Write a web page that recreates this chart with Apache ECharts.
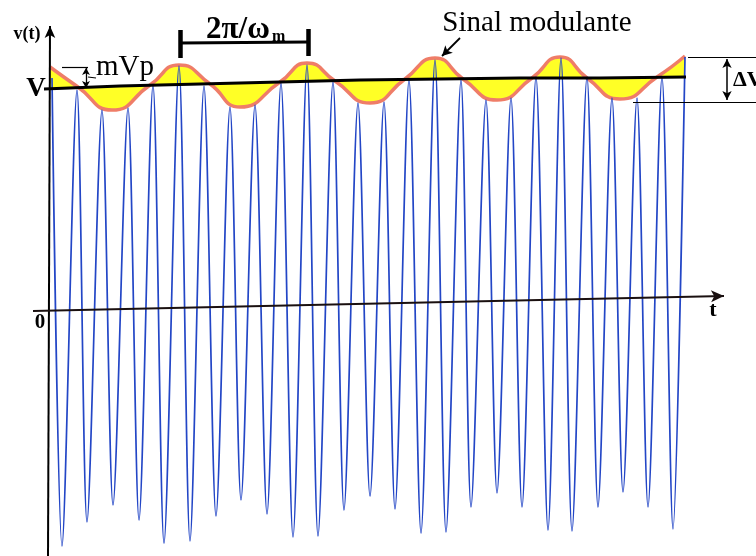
<!DOCTYPE html>
<html><head><meta charset="utf-8">
<script src="https://cdn.jsdelivr.net/npm/echarts@6/dist/echarts.min.js"></script>
<style>html,body{margin:0;padding:0;background:#fff}#c{width:756px;height:556px}</style>
</head><body><div id="c"></div>
<script>
// ---- values (screen units: x to the right, y downward) ----
// carrier (blue) crests and troughs
const peakX = [52,77,102,128,153,179,204,230,255,281,307,333,358,384,409,435,461,486,511,536,561,587,612,637,662,685];
const peakY = [78,90,110,108,85,66,86,107,105,83,65,82,103,102,80,60,80,100,98,77,58,77,98,98,77,57];
const troughX = [62,87,113,139,164,190,216,241,267,293,318,344,370,395,421,446,471,497,522,548,572,598,623,648,673];
const troughY = [546,522,505,520,543,541,516,500,514,537,536,510,496,509,533,532,507,493,507,530,531,507,492,507,529];
// modulating signal (envelope) samples
const envX = [50,78,112,150,179,210,240,280,307,335,370,405,435,463,497,532,560,587,620,657,685];
const envY = [67,87,110,85,65,84,107,82,63,81,103,79,58,79,100,78,57,78,99,77,56];
// level V (black line) read at the envelope samples
const levelAtEnv = [88,87,86,85,85,84,83,82,82,81,80,79,79,79,78,78,78,78,77,77,77];
// level V line
const levelX = [44,120,200,280,360,440,520,600,686];
const levelY = [89,86,84,82,80,79,78,78,77];
// axes
const yAxisLine = [[48,556],[50,26]];
const xAxisLine = [[33,311],[724,296]];
// annotation geometry
const mvpTop = [[62,67],[88,67]];
const mvpArrow = [[86,68],[86,88]];
const mvpTick = [[88,77],[96,78]];
const periodBar = [[180,43],[308,42]];
const periodTickL = [[180,30],[180,58]];
const periodTickR = [[308,29],[308,56]];
const sinalArrow = [[460,38],[442,56]];
const dvTop = [[688,57],[756,57]];
const dvBottom = [[633,102],[756,102]];
const dvArrow = [[727,59],[727,100]];

const W = 756, H = 556;
const pixelCats = Array.from({length: W + 1}, (_, i) => String(i));
const serif = '"Liberation Serif","DejaVu Serif",serif';

const blueData = [];
for (let i = 0; i < peakX.length; i++) {
  blueData.push([peakX[i], peakY[i]]);
  if (i < troughX.length) blueData.push([troughX[i], troughY[i]]);
}
const baseData = envX.map((x, i) => [String(x), levelAtEnv[i]]);
const diffData = envX.map((x, i) => [String(x), envY[i] - levelAtEnv[i]]);
const envData = envX.map((x, i) => [x, envY[i]]);
const levelData = levelX.map((x, i) => [x, levelY[i]]);

function seg(pts, color, width, s0, s1, size) {
  const ls = {color: color, width: width, type: 'solid'};
  return [
    {coord: pts[0], symbol: s0 || 'none', symbolSize: size || 8, lineStyle: ls},
    {coord: pts[1], symbol: s1 || 'none', symbolSize: size || 8, lineStyle: ls}
  ];
}

function txt(text, x, y, font, align, valign) {
  return {type: 'text', x: x, y: y, z: 100,
    style: {text: text, font: font, fill: '#000',
      align: align || 'center', verticalAlign: valign || 'middle',
      textAlign: align || 'center', textVerticalAlign: valign || 'middle'}};
}

const chart = echarts.init(document.getElementById('c'), null, {renderer: 'canvas'});
chart.setOption({
  animation: false,
  backgroundColor: '#fff',
  grid: {left: 0, right: 0, top: 0, bottom: 0},
  xAxis: [
    {type: 'value', min: 0, max: W, show: false},
    {type: 'category', data: pixelCats, boundaryGap: false, show: false}
  ],
  yAxis: {type: 'value', min: 0, max: H, inverse: true, show: false},
  series: [
    {type: 'line', xAxisIndex: 1, data: baseData, stack: 'band', stackStrategy: 'all',
      symbol: 'none', smooth: 0.55, lineStyle: {opacity: 0, width: 0}, silent: true},
    {type: 'line', xAxisIndex: 1, data: diffData, stack: 'band', stackStrategy: 'all',
      symbol: 'none', smooth: 0.55, lineStyle: {opacity: 0, width: 0},
      areaStyle: {color: '#ffff26', opacity: 1}, silent: true},
    {type: 'line', data: envData, symbol: 'none', smooth: 0.55,
      lineStyle: {color: '#ef7d68', width: 3.5}, silent: true},
    {type: 'line', data: blueData, symbol: 'none', smooth: 0.3,
      lineStyle: {color: '#2346c6', width: 1.7}, silent: true},
    {type: 'line', data: levelData, symbol: 'none',
      lineStyle: {color: '#000', width: 3}, silent: true},
    {type: 'line', data: [], silent: true,
      markLine: {silent: true, animation: false, symbol: ['none', 'none'],
        label: {show: false}, emphasis: {disabled: true},
        data: [
          seg(yAxisLine, '#000', 2, 'none', 'arrow', [8, 12]),
          seg(xAxisLine, '#1a1010', 1.8, 'none', 'arrow', [9, 13]),
          seg(mvpTop, '#000', 1.2),
          seg(mvpArrow, '#000', 1.3, 'arrow', 'arrow', [6, 7]),
          seg(mvpTick, '#000', 1.2),
          seg(periodBar, '#000', 3),
          seg(periodTickL, '#000', 4.5),
          seg(periodTickR, '#000', 4.5),
          seg(sinalArrow, '#000', 1.8, 'none', 'arrow', [8, 10]),
          seg(dvTop, '#000', 1.2),
          seg(dvBottom, '#000', 1.2),
          seg(dvArrow, '#000', 1.5, 'arrow', 'arrow', [7, 9])
        ]}}
  ],
  graphic: [
    txt('v(t)', 27, 34, 'bold 18px ' + serif),
    txt('V', 36, 89, 'bold 27px ' + serif),
    txt('mVp', 125, 67, '29px ' + serif),
    txt('2π/ω', 238, 30, 'bold 31px ' + serif),
    txt('m', 272, 37, 'bold 16px ' + serif, 'left'),
    txt('Sinal modulante', 537, 23, '29px ' + serif),
    txt('0', 40, 323, 'bold 21px ' + serif),
    txt('t', 713, 310, 'bold 22px ' + serif),
    txt('ΔV', 733, 80, 'bold 22px ' + serif, 'left')
  ]
});
</script></body></html>
